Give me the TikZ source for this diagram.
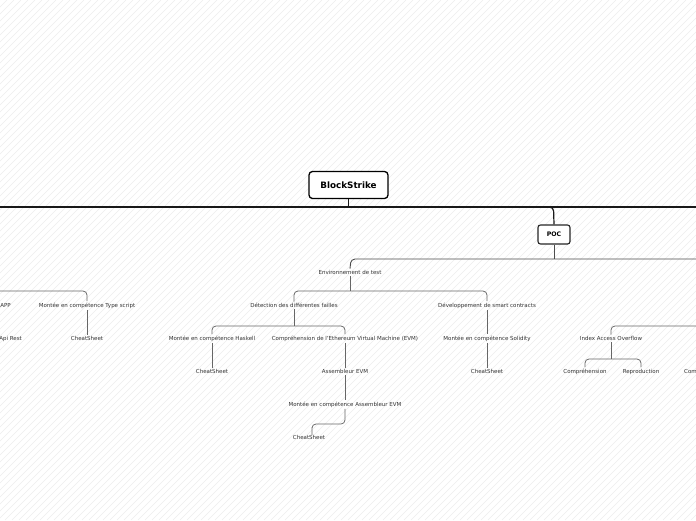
\documentclass[tikz,border=0pt]{standalone}
\usepackage{fontspec}
\setmainfont{DejaVu Sans}
\definecolor{txt}{HTML}{333333}
\definecolor{ln}{HTML}{666666}
\definecolor{hatch}{HTML}{EDEDED}
\tikzset{
  leaf/.style={font=\fontsize{5.5}{6.5}\selectfont, text=txt, inner sep=1.5pt},
  topbox/.style={draw=black, line width=1.3pt, rounded corners=3.5pt, fill=white, font=\fontsize{8.8}{10}\selectfont\bfseries, minimum width=79pt, minimum height=27pt, inner sep=0pt},
  pocbox/.style={draw=black!85, line width=1.1pt, rounded corners=2.5pt, fill=white, font=\fontsize{6.2}{7}\selectfont\bfseries, minimum width=32pt, minimum height=19pt, inner sep=0pt},
  rootline/.style={draw=black!90, line width=1.2pt, rounded corners=4pt},
  midline/.style={draw=black!70, line width=0.9pt, rounded corners=4pt},
  conn/.style={draw=ln, line width=0.75pt, rounded corners=4pt}
}
\begin{document}
\begin{tikzpicture}[x=1pt,y=-1pt]
\useasboundingbox (0,0) rectangle (696,520);
\clip (0,0) rectangle (696,520);
\fill[white] (0,0) rectangle (696,520);
\foreach \i in {-520,-513,...,700} \draw[hatch, line width=0.5pt] (\i,520) -- (\i+520,0);

% nodes
\node[topbox] (root) at (348.5,185) {BlockStrike};
\node[pocbox] (poc) at (554,234.5) {POC};
\node[leaf] (env) at (350,272.5) {Environnement de test};
\node[leaf, anchor=east] (dapp) at (12.5,305.5) {dAPP};
\node[leaf] (ts) at (87,305.5) {Montée en compétence Type script};
\node[leaf, anchor=east] (api) at (23.5,338.5) {Api Rest};
\node[leaf] (tscs) at (87,338.5) {CheatSheet};
\node[leaf] (det) at (294,305.5) {Détection des différentes failles};
\node[leaf] (dev) at (487,305.5) {Développement de smart contracts};
\node[leaf] (hask) at (212,338.5) {Montée en compétence Haskell};
\node[leaf] (evm) at (345,338.5) {Compréhension de l'Ethereum Virtual Machine (EVM)};
\node[leaf] (haskcs) at (212,371.5) {CheatSheet};
\node[leaf] (asm) at (345,371.5) {Assembleur EVM};
\node[leaf] (masm) at (345,404.5) {Montée en compétence Assembleur EVM};
\node[leaf] (masmcs) at (309,437.5) {CheatSheet};
\node[leaf] (sol) at (487,338.5) {Montée en compétence Solidity};
\node[leaf] (solcs) at (487,371.5) {CheatSheet};
\node[leaf] (iao) at (611,338.5) {Index Access Overflow};
\node[leaf] (comp) at (585,371.5) {Compréhension};
\node[leaf] (repro) at (641,371.5) {Reproduction};
\node[leaf, anchor=west] (comp2) at (682.5,371.5) {Compréhension};

% off-canvas ends and junctions
\coordinate (rootL) at (-20,207);
\coordinate (rootR) at (720,207);
\coordinate (rootJ) at (348.5,207);
\coordinate (pocJ) at (510,207);
\coordinate (pocR) at (720,259);
\coordinate (tsL) at (-20,291);
\coordinate (iaoR) at (720,326);

% root level
\draw[rootline] (root.south) -- (rootJ);
\draw[rootline] (rootL) -- (rootR);
\draw[rootline] (pocJ) -- (553.5,207) -- (poc.north);

% POC level
\draw[midline] (poc.south) -- (554,259);
\draw[midline] (pocR) -- (351,259) -- (env.north);

% Environnement de test
\draw[conn] (env.south) -- (350,291);
\draw[conn] (det.north) |- (487,291) -- (dev.north);
\draw[conn] (tsL) -| (ts.north);

% Type script
\draw[conn] (ts.south) -- (tscs.north);

% Détection
\draw[conn] (det.south) -- (294,326);
\draw[conn] (hask.north) |- (345,326) -- (evm.north);
\draw[conn] (hask.south) -- (haskcs.north);
\draw[conn] (evm.south) -- (asm.north);
\draw[conn] (asm.south) -- (masm.north);
\draw[conn] (masm.south) |- (312,424) -- (312,431) -- (masmcs.north -| 312,0);

% Développement
\draw[conn] (dev.south) -- (sol.north);
\draw[conn] (sol.south) -- (solcs.north);

% Index Access Overflow
\draw[conn] (iaoR) -| (iao.north);
\draw[conn] (iao.south) -- (611,359);
\draw[conn] (comp.north) |- (641,359) -- (repro.north);
\end{tikzpicture}
\end{document}
